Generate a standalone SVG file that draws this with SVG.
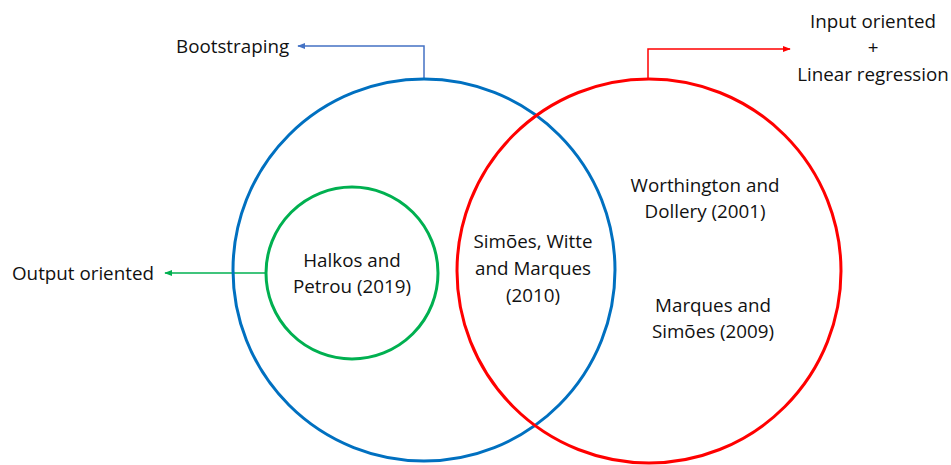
<svg xmlns="http://www.w3.org/2000/svg" width="951" height="465" viewBox="0 0 951 465">
<defs>
<style>
text{font-family:"Open Sans","Liberation Sans",sans-serif;font-size:18.8px;fill:#111}
.c{text-anchor:middle}
</style>
<marker id="ab" viewBox="0 0 10 10" refX="9" refY="5" markerWidth="8" markerHeight="8" markerUnits="userSpaceOnUse" orient="auto"><path d="M0,1 L10,5 L0,9 z" fill="#4472C4"/></marker>
<marker id="ar" viewBox="0 0 10 10" refX="9" refY="5" markerWidth="8" markerHeight="8" markerUnits="userSpaceOnUse" orient="auto"><path d="M0,1 L10,5 L0,9 z" fill="#FF0000"/></marker>
<marker id="ag" viewBox="0 0 10 10" refX="9" refY="5" markerWidth="8" markerHeight="8" markerUnits="userSpaceOnUse" orient="auto"><path d="M0,1 L10,5 L0,9 z" fill="#00B050"/></marker>
</defs>
<rect width="951" height="465" fill="#fff"/>
<g id="connectors" fill="none">
<path d="M424,80 V46 H298" stroke="#4472C4" stroke-width="1.5" marker-end="url(#ab)"/>
<path d="M648,80 V49 H790" stroke="#FF0000" stroke-width="1.5" marker-end="url(#ar)"/>
<path d="M267,273 H165" stroke="#00B050" stroke-width="1.5" marker-end="url(#ag)"/>
</g>
<g id="blue-circle"><circle cx="424" cy="270" r="191" fill="none" stroke="#0070C0" stroke-width="3"/></g>
<g id="red-circle"><circle cx="649" cy="271" r="192" fill="none" stroke="#FF0000" stroke-width="3"/></g>
<g id="green-circle"><circle cx="352" cy="273" r="86" fill="none" stroke="#00B050" stroke-width="3"/>
<text class="c" x="352" y="267">Halkos and</text><text class="c" x="352" y="293">Petrou (2019)</text></g>
<g id="intersection"><text class="c" x="533" y="248">Simões, Witte</text><text class="c" x="533" y="275">and Marques</text><text class="c" x="533" y="302">(2010)</text></g>
<g id="worthington"><text class="c" x="705" y="192">Worthington and</text><text class="c" x="705" y="218">Dollery (2001)</text></g>
<g id="marques"><text class="c" x="713" y="312">Marques and</text><text class="c" x="713" y="338">Simões (2009)</text></g>
<g id="bootstraping"><text x="176" y="53">Bootstraping</text></g>
<g id="input"><text class="c" x="873" y="28">Input oriented</text><text class="c" x="873" y="54">+</text><text class="c" x="873" y="81">Linear regression</text></g>
<g id="output"><text x="12" y="280">Output oriented</text></g>
</svg>
